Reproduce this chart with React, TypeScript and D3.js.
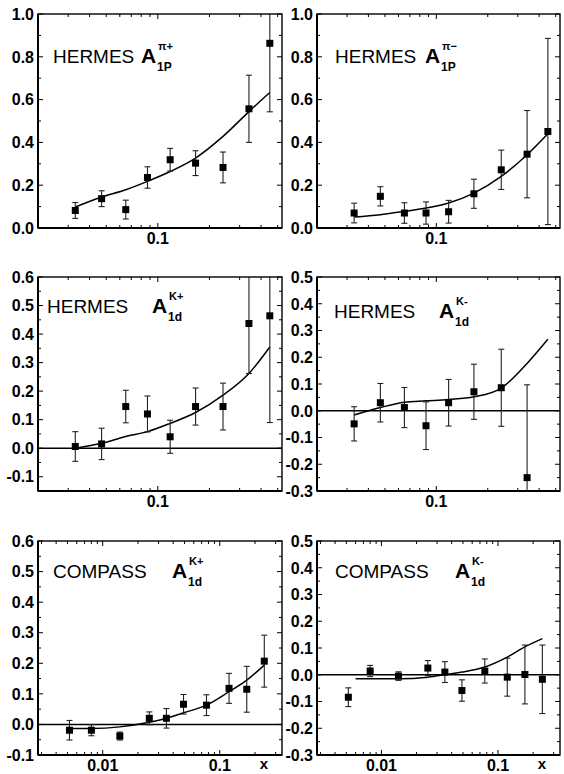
import React from "react";
import * as d3 from "d3";

// ---------- data ----------
const hermesX = [0.033, 0.047, 0.065, 0.087, 0.118, 0.166, 0.24, 0.34, 0.45];
const hermesKmX = [0.033, 0.047, 0.065, 0.087, 0.118, 0.166, 0.24, 0.34];
const compassX = [0.0052, 0.008, 0.014, 0.025, 0.035, 0.049, 0.077, 0.12, 0.17, 0.24];
const compassCurveKmX = [0.006, 0.008, 0.014, 0.025, 0.035, 0.049, 0.077, 0.12, 0.17, 0.24];

// A1p pi+ (HERMES)
const pipY = [0.082, 0.137, 0.086, 0.236, 0.319, 0.303, 0.283, 0.557, 0.863];
const pipErr = [0.037, 0.037, 0.044, 0.05, 0.053, 0.058, 0.072, 0.157, 0.32];
const pipCurve = [0.098, 0.145, 0.179, 0.218, 0.264, 0.327, 0.428, 0.544, 0.633];

// A1p pi- (HERMES)
const pimY = [0.07, 0.148, 0.07, 0.07, 0.076, 0.16, 0.272, 0.345, 0.451];
const pimErr = [0.046, 0.045, 0.048, 0.052, 0.053, 0.068, 0.092, 0.204, 0.435];
const pimCurve = [0.051, 0.062, 0.078, 0.093, 0.117, 0.163, 0.241, 0.342, 0.44];

// A1d K+ (HERMES)
const hkpY = [0.006, 0.015, 0.146, 0.12, 0.04, 0.146, 0.146, 0.437, 0.464];
const hkpErr = [0.052, 0.055, 0.057, 0.063, 0.058, 0.065, 0.082, 0.175, 0.374];
const hkpCurve = [0.0, 0.017, 0.041, 0.058, 0.087, 0.125, 0.186, 0.262, 0.355];

// A1d K- (HERMES)
const hkmY = [-0.049, 0.03, 0.012, -0.056, 0.03, 0.071, 0.086, -0.25];
const hkmErr = [0.064, 0.072, 0.075, 0.089, 0.087, 0.103, 0.144, 0.347];
const hkmCurve = [-0.016, 0.012, 0.032, 0.037, 0.042, 0.052, 0.085, 0.177, 0.267];

// A1d K+ (COMPASS)
const ckpY = [-0.019, -0.019, -0.038, 0.02, 0.02, 0.066, 0.063, 0.118, 0.115, 0.207];
const ckpErr = [0.032, 0.018, 0.013, 0.021, 0.032, 0.032, 0.034, 0.049, 0.075, 0.085];
const ckpCurve = [-0.013, -0.013, -0.008, 0.007, 0.02, 0.038, 0.063, 0.107, 0.145, 0.194];

// A1d K- (COMPASS)
const ckmY = [-0.084, 0.014, -0.005, 0.025, 0.01, -0.059, 0.014, -0.009, 0.001, -0.017];
const ckmErr = [0.035, 0.021, 0.016, 0.028, 0.039, 0.04, 0.045, 0.071, 0.11, 0.128];
const ckmCurve = [-0.015, -0.015, -0.015, -0.009, 0.0, 0.01, 0.029, 0.066, 0.104, 0.135];

// tick labels
const hermesXTicks = [0.1];
const compassXTicks = [0.01, 0.1];
const yTicksTop = [0, 0.2, 0.4, 0.6, 0.8, 1.0];
const yTicksMidL = [-0.1, 0, 0.1, 0.2, 0.3, 0.4, 0.5, 0.6];
const yTicksMidR = [-0.3, -0.2, -0.1, 0, 0.1, 0.2, 0.3, 0.4, 0.5];
const yTicksBotL = [-0.1, 0, 0.1, 0.2, 0.3, 0.4, 0.5, 0.6];
const yTicksBotR = [-0.3, -0.2, -0.1, 0, 0.1, 0.2, 0.3, 0.4, 0.5];

// ---------- layout ----------
const COLS = [
  [38, 282],
  [317, 560],
];
const ROWS = [
  [14, 228],
  [277, 491],
  [541, 755],
];
const FONT = "'Liberation Sans', Arial, Helvetica, sans-serif";

type PanelCfg = {
  col: number;
  row: number;
  xDomain: [number, number];
  yDomain: [number, number];
  yMajor: number[];
  yMinorStep: number;
  xMajor: number[];
  px: number[];
  py: number[];
  perr: number[];
  cx: number[];
  cy: number[];
  zeroLine: boolean;
  name: string;
  sub: string;
  sup: string;
  nameX: number;
  nameY: number;
  aX: number;
  showX: boolean;
};

const panels: PanelCfg[] = [
  {
    col: 0, row: 0, xDomain: [0.02, 0.53], yDomain: [0, 1], yMajor: yTicksTop, yMinorStep: 0.1,
    xMajor: hermesXTicks, px: hermesX, py: pipY, perr: pipErr, cx: hermesX, cy: pipCurve,
    zeroLine: false, name: "HERMES", sub: "1P", sup: "\u03c0+", nameX: 15, nameY: 49, aX: 103, showX: false,
  },
  {
    col: 1, row: 0, xDomain: [0.02, 0.53], yDomain: [0, 1], yMajor: yTicksTop, yMinorStep: 0.1,
    xMajor: hermesXTicks, px: hermesX, py: pimY, perr: pimErr, cx: hermesX, cy: pimCurve,
    zeroLine: false, name: "HERMES", sub: "1P", sup: "\u03c0\u2212", nameX: 18, nameY: 49, aX: 108, showX: false,
  },
  {
    col: 0, row: 1, xDomain: [0.02, 0.53], yDomain: [-0.15, 0.6], yMajor: yTicksMidL, yMinorStep: 0.05,
    xMajor: hermesXTicks, px: hermesX, py: hkpY, perr: hkpErr, cx: hermesX, cy: hkpCurve,
    zeroLine: true, name: "HERMES", sub: "1d", sup: "K+", nameX: 9, nameY: 36, aX: 114, showX: false,
  },
  {
    col: 1, row: 1, xDomain: [0.02, 0.53], yDomain: [-0.3, 0.5], yMajor: yTicksMidR, yMinorStep: 0.05,
    xMajor: hermesXTicks, px: hermesKmX, py: hkmY, perr: hkmErr, cx: hermesX, cy: hkmCurve,
    zeroLine: true, name: "HERMES", sub: "1d", sup: "K-", nameX: 17, nameY: 41, aX: 122, showX: false,
  },
  {
    col: 0, row: 2, xDomain: [0.0028, 0.34], yDomain: [-0.1, 0.6], yMajor: yTicksBotL, yMinorStep: 0.05,
    xMajor: compassXTicks, px: compassX, py: ckpY, perr: ckpErr, cx: compassX, cy: ckpCurve,
    zeroLine: true, name: "COMPASS", sub: "1d", sup: "K+", nameX: 15, nameY: 37, aX: 134, showX: true,
  },
  {
    col: 1, row: 2, xDomain: [0.0028, 0.34], yDomain: [-0.3, 0.5], yMajor: yTicksBotR, yMinorStep: 0.05,
    xMajor: compassXTicks, px: compassX, py: ckmY, perr: ckmErr, cx: compassCurveKmX, cy: ckmCurve,
    zeroLine: true, name: "COMPASS", sub: "1d", sup: "K-", nameX: 18, nameY: 37, aX: 138, showX: true,
  },
];

function fmt(v: number) {
  return Math.abs(v) < 1e-9 ? "0.0" : v.toFixed(1);
}

function Panel({ p, id }: { p: PanelCfg; id: number }) {
  const [x0, x1] = COLS[p.col];
  const [y0, y1] = ROWS[p.row];
  const x = d3.scaleLog().domain(p.xDomain).range([x0, x1]);
  const y = d3.scaleLinear().domain(p.yDomain).range([y1, y0]);
  const xMinor = x.ticks().filter((v) => !p.xMajor.some((m) => Math.abs(m - v) / m < 1e-6));
  const yMinor = d3
    .range(Math.round(p.yDomain[0] / p.yMinorStep), Math.round(p.yDomain[1] / p.yMinorStep) + 1)
    .map((k) => k * p.yMinorStep)
    .filter((v) => !p.yMajor.some((m) => Math.abs(m - v) < 1e-6));
  const line = d3
    .line<number>()
    .x((_, i) => x(p.cx[i]))
    .y((d) => y(d))
    .curve(d3.curveMonotoneX);
  const clipId = `clip${id}`;
  const MAJ = 5;
  const MIN = 3;
  const cap = 3;
  const sq = 7;
  return (
    <g>
      <defs>
        <clipPath id={clipId}>
          <rect x={x0} y={y0} width={x1 - x0} height={y1 - y0} />
        </clipPath>
      </defs>
      <g stroke="#000" strokeWidth={1}>
        {p.xMajor.map((v) => (
          <g key={"xm" + v}>
            <line x1={x(v)} x2={x(v)} y1={y1} y2={y1 - MAJ} />
            <line x1={x(v)} x2={x(v)} y1={y0} y2={y0 + MAJ} />
          </g>
        ))}
        {xMinor.map((v) => (
          <g key={"xn" + v}>
            <line x1={x(v)} x2={x(v)} y1={y1} y2={y1 - MIN} />
            <line x1={x(v)} x2={x(v)} y1={y0} y2={y0 + MIN} />
          </g>
        ))}
        {p.yMajor.map((v) => (
          <g key={"ym" + v}>
            <line x1={x0} x2={x0 + MAJ} y1={y(v)} y2={y(v)} />
            <line x1={x1} x2={x1 - MAJ} y1={y(v)} y2={y(v)} />
          </g>
        ))}
        {yMinor.map((v) => (
          <g key={"yn" + v}>
            <line x1={x0} x2={x0 + MIN} y1={y(v)} y2={y(v)} />
            <line x1={x1} x2={x1 - MIN} y1={y(v)} y2={y(v)} />
          </g>
        ))}
      </g>
      <g fontFamily={FONT} fontWeight="bold" fontSize={16} fill="#000">
        {p.yMajor.map((v) => (
          <text key={"yl" + v} x={x0 - 4} y={y(v)} dy="0.36em" textAnchor="end">
            {fmt(v)}
          </text>
        ))}
        {p.xMajor.map((v) => (
          <text key={"xl" + v} x={x(v)} y={y1 + 16} textAnchor="middle">
            {String(v)}
          </text>
        ))}
        {p.showX && (
          <text x={x1 - 18} y={y1 + 14} textAnchor="middle" fontSize={15}>
            x
          </text>
        )}
      </g>
      <g clipPath={`url(#${clipId})`}>
        {p.zeroLine && (
          <line x1={x0} x2={x1} y1={y(0)} y2={y(0)} stroke="#000" strokeWidth={1.6} />
        )}
        <path d={line(p.cy) || ""} fill="none" stroke="#000" strokeWidth={1.5} />
        {p.py.map((v, i) => {
          const cxp = x(p.px[i]);
          const top = y(v + p.perr[i]);
          const bot = y(v - p.perr[i]);
          return (
            <g key={"pt" + i}>
              <line x1={cxp} x2={cxp} y1={top} y2={bot} stroke="#222" strokeWidth={1.1} />
              <line x1={cxp - cap} x2={cxp + cap} y1={top} y2={top} stroke="#222" strokeWidth={1.1} />
              <line x1={cxp - cap} x2={cxp + cap} y1={bot} y2={bot} stroke="#222" strokeWidth={1.1} />
              <rect x={cxp - sq / 2} y={y(v) - sq / 2} width={sq} height={sq} fill="#000" />
            </g>
          );
        })}
      </g>
      <rect x={x0} y={y0} width={x1 - x0} height={y1 - y0} fill="none" stroke="#000" strokeWidth={1.4} />
      <line x1={x0} x2={x1} y1={y1} y2={y1} stroke="#000" strokeWidth={2} />
      <line x1={x0} x2={x0} y1={y0} y2={y1} stroke="#000" strokeWidth={2} />
      <g fontFamily={FONT} fill="#000">
        <text x={x0 + p.nameX} y={y0 + p.nameY} fontSize={19}>
          {p.name}
        </text>
        <text x={x0 + p.aX} y={y0 + p.nameY} fontSize={21} fontWeight="bold">
          A
        </text>
        <text x={x0 + p.aX + 16} y={y0 + p.nameY + 8} fontSize={12} fontWeight="bold">
          {p.sub}
        </text>
        <text x={x0 + p.aX + 17} y={y0 + p.nameY - 13} fontSize={11} fontWeight="bold">
          {p.sup}
        </text>
      </g>
    </g>
  );
}

export default function App() {
  return (
    <svg
      width={564}
      height={774}
      viewBox="0 0 564 774"
      style={{ position: "absolute", left: 0, top: 0, background: "#fff" }}
    >
      <rect width={564} height={774} fill="#fff" />
      {panels.map((p, i) => (
        <Panel key={i} p={p} id={i} />
      ))}
    </svg>
  );
}
